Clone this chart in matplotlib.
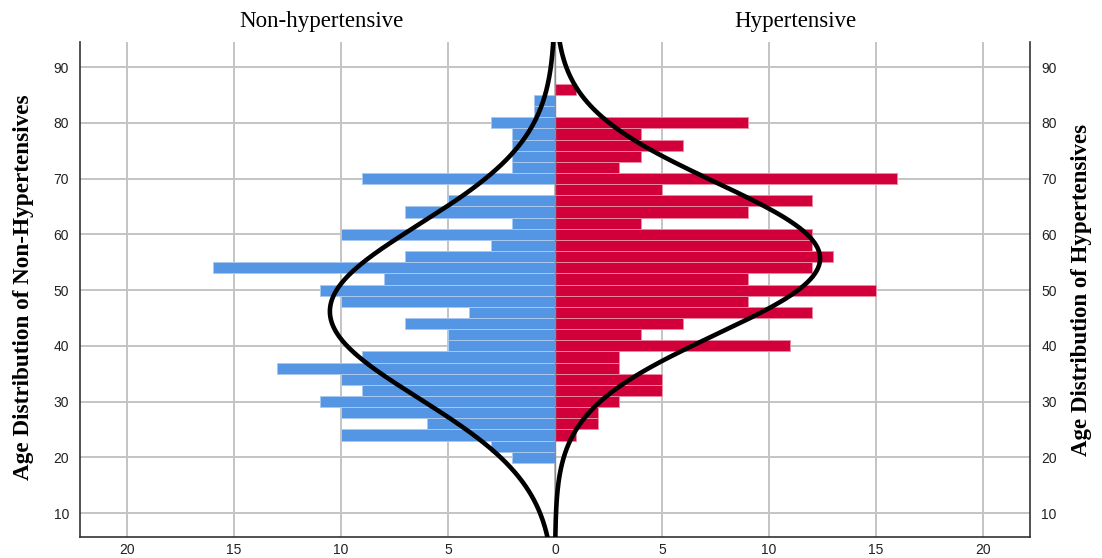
import numpy as np
import matplotlib
matplotlib.use("Agg")
import matplotlib.pyplot as plt
from matplotlib.ticker import FixedLocator, FuncFormatter

# ---- data (bin centres = age, 2-year bins) ----
ages = [20, 22, 24, 26, 28, 30, 32, 34, 36, 38, 40, 42, 44, 46, 48, 50, 52,
        54, 56, 58, 60, 62, 64, 66, 68, 70, 72, 74, 76, 78, 80, 82, 84, 86]
non_hyp = [2, 3, 10, 6, 10, 11, 9, 10, 13, 9, 5, 5, 7, 4, 10, 11, 8,
           16, 7, 3, 10, 2, 7, 5, 0, 9, 2, 2, 2, 2, 3, 1, 1, 0]
hyp = [0, 0, 1, 2, 2, 3, 5, 5, 3, 3, 11, 4, 6, 12, 9, 15, 9,
       12, 13, 12, 12, 4, 9, 12, 5, 16, 3, 4, 6, 4, 9, 0, 0, 1]
x_ticks = [-20, -15, -10, -5, 0, 5, 10, 15, 20]
y_ticks = [10, 20, 30, 40, 50, 60, 70, 80, 90]
bin_width = 2

blue = "#5596e4"
red = "#d2003a"

plt.rcParams['font.family'] = ['Liberation Sans', 'DejaVu Sans']

fig = plt.figure(figsize=(11.02, 5.58), dpi=100)
ax = fig.add_axes([0.0726, 0.0376, 0.8621, 0.8871])

a = np.array(ages, dtype=float)
nh = np.array(non_hyp, dtype=float)
hy = np.array(hyp, dtype=float)

ax.barh(a, -nh, height=bin_width, color=blue, edgecolor="#a9c8f0",
        linewidth=0.7, zorder=2)
ax.barh(a, hy, height=bin_width, color=red, edgecolor="#e88aa0",
        linewidth=0.7, zorder=2)

# fitted normal curves (from the binned data)
yy = np.linspace(0, 100, 600)
for counts, sign in ((nh, -1), (hy, 1)):
    n = counts.sum()
    m = (counts * a).sum() / n
    sd = np.sqrt((counts * (a - m) ** 2).sum() / (n - 1))
    dens = n * bin_width / (sd * np.sqrt(2 * np.pi)) * np.exp(-0.5 * ((yy - m) / sd) ** 2)
    ax.plot(sign * dens, yy, color="black", lw=3.3, zorder=4, solid_capstyle="butt")

ax.axvline(0, color="#8a8a8a", lw=1.0, zorder=3)

ax.set_xlim(-22.2, 22.2)
ax.set_ylim(5.7, 94.5)
ax.xaxis.set_major_locator(FixedLocator(x_ticks))
ax.yaxis.set_major_locator(FixedLocator(y_ticks))
ax.xaxis.set_major_formatter(FuncFormatter(lambda v, p: f"{abs(int(v))}"))
ax.grid(True, color="#c4c4c4", lw=1.4, zorder=0)
ax.set_axisbelow(True)
ax.tick_params(axis="both", length=0, labelsize=10, colors="#222222")
ax.tick_params(axis="x", pad=4)
ax.tick_params(axis="y", pad=8, labelleft=True, labelright=True)
ax.spines["top"].set_visible(False)
for s in ("left", "right", "bottom"):
    ax.spines[s].set_color("#333333")
    ax.spines[s].set_linewidth(1.2)

serif = ['Liberation Serif', 'DejaVu Serif']
fig.text(0.2915, 0.962, "Non-hypertensive", family=serif, fontsize=16.5,
         ha="center", va="center")
fig.text(0.7215, 0.962, "Hypertensive", family=serif, fontsize=16.5,
         ha="center", va="center")
fig.text(0.021, 0.485, "Age Distribution of Non-Hypertensives", family=serif,
         fontsize=16.7, fontweight="bold", rotation=90, ha="center", va="center")
fig.text(0.981, 0.48, "Age Distribution of Hypertensives", family=serif,
         fontsize=16.5, fontweight="bold", rotation=90, ha="center", va="center")

fig.savefig("out.png", dpi=100)
